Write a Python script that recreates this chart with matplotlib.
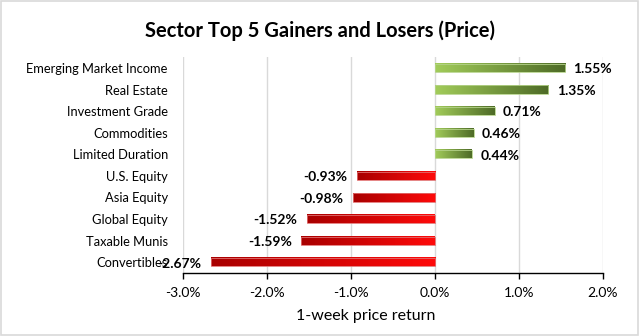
import numpy as np
import matplotlib
matplotlib.use("Agg")
import matplotlib.pyplot as plt
from matplotlib.colors import LinearSegmentedColormap
from matplotlib.ticker import FuncFormatter, MultipleLocator
from matplotlib.patches import Rectangle

plt.rcParams['font.family'] = ['Lato', 'DejaVu Sans']

sectors = ["Emerging Market Income", "Real Estate", "Investment Grade", "Commodities",
           "Limited Duration", "U.S. Equity", "Asia Equity", "Global Equity",
           "Taxable Munis", "Convertibles"]
returns = [1.55, 1.35, 0.71, 0.46, 0.44, -0.93, -0.98, -1.52, -1.59, -2.67]

title = "Sector Top 5 Gainers and Losers (Price)"
xlabel = "1-week price return"

green_cmap = LinearSegmentedColormap.from_list("g", ["#a2cc5a", "#4e6b27"])
red_cmap = LinearSegmentedColormap.from_list("r", ["#ff0a0a", "#a80000"])

fig = plt.figure(figsize=(6.4, 3.36), dpi=100)
fig.patch.set_facecolor("white")
# outer chart border
fig.add_artist(Rectangle((0.002, 0.003), 0.995, 0.993, transform=fig.transFigure,
                         fill=False, edgecolor="#d9d9d9", linewidth=1.2))

ax = fig.add_axes([0.286, 0.1875, 0.656, 0.6425])

bar_h = 0.38
grad = np.linspace(0, 1, 256).reshape(1, -1)
for i, v in enumerate(returns):
    cmap = green_cmap if v >= 0 else red_cmap
    # gradient runs from light at zero to dark at the bar tip
    ext = [0, v, i + bar_h / 2, i - bar_h / 2]
    ax.imshow(grad, cmap=cmap, extent=ext, aspect="auto", interpolation="bicubic", zorder=3)
    edge = "#e07070" if v < 0 else "#b5d38a"
    ax.add_patch(Rectangle((min(0, v), i - bar_h / 2), abs(v), bar_h, fill=False,
                           edgecolor=edge, linewidth=0.6, zorder=4))
    label = f"{v:.2f}%"
    if v >= 0:
        ax.annotate(label, (v, i), xytext=(6, -1), textcoords="offset points",
                    ha="left", va="center", fontsize=10, fontweight="bold", zorder=5)
    else:
        ax.annotate(label, (v, i), xytext=(-7, -1), textcoords="offset points",
                    ha="right", va="center", fontsize=10, fontweight="bold", zorder=5)

ax.set_aspect("auto")
ax.set_xlim(-3.0, 2.0)
ax.set_ylim(len(sectors) - 0.5, -0.5)

ax.set_yticks(range(len(sectors)))
ax.set_yticklabels(sectors, fontsize=9.3)
ax.tick_params(axis="y", length=0, pad=11)

ax.xaxis.set_major_locator(MultipleLocator(1.0))
ax.xaxis.set_major_formatter(FuncFormatter(lambda x, p: f"{x:.1f}%"))
ax.tick_params(axis="x", direction="out", length=4, width=1, color="black", labelsize=10, pad=6)
ax.grid(axis="x", color="#d9d9d9", linewidth=1, zorder=0)
ax.set_axisbelow(True)

for s in ["top", "right", "left"]:
    ax.spines[s].set_visible(False)
ax.spines["bottom"].set_color("black")
ax.spines["bottom"].set_linewidth(1)

fig.text(366 / 640, 1 - 316 / 336, xlabel, ha="center", va="center", fontsize=11.5)
fig.text(0.5, 0.908, title, ha="center", va="center", fontsize=14.5, fontweight="bold")

fig.savefig("out.png", dpi=100, facecolor="white")
